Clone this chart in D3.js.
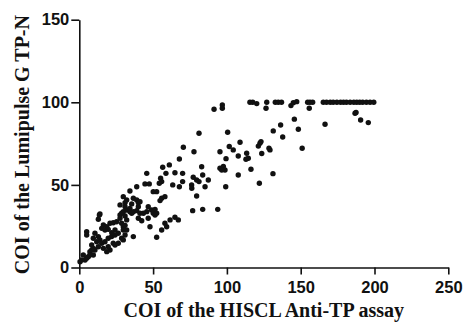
<!DOCTYPE html>
<html>
<head>
<meta charset="utf-8">
<script src="https://cdn.jsdelivr.net/npm/d3@7"></script>
<style>
  html, body { margin: 0; padding: 0; background: #fff; }
  svg { display: block; }
  .tick text { font-family: "Liberation Sans", Arial, sans-serif; font-weight: bold; font-size: 16.5px; fill: #111; }
  .axis path, .axis line { stroke: #111; stroke-width: 1.6px; }
  .title { font-family: "Liberation Serif", "Times New Roman", serif; font-weight: bold; font-size: 20px; fill: #111; }
</style>
</head>
<body>
<script>
// HISCL Anti-TP COI (x) and Lumipulse G TP-N COI (y)
const hiscl = [
  115.6,117.5,120.2,127,126.5,132.8,134.8,137,143.4,145,147.3,154.7,156.3,158.1,155.8,165.3,167.5,170,172,174.5,177,179,181,183.5,186,188,190,192,194.5,197,199.5,
  91.3,96.9,96.9,
  186.8,187.5,190.6,195.8,166.5,145.7,148.4,151,131.4,136.4,137.8,129.2,128.5,131.2,122.4,123.1,121.3,123.6,122,116.3,113.4,114.5,112.9,107.7,107.7,108.9,104.3,101.6,95.3,99.4,100.5,81.1,77.7,70.5,67.8,95.3,97.6,98.7,96.5,99.2,82.9,77.2,79.5,81.1,83.6,85.2,87.4,76.1,79.5,76.8,83.6,93.8,
  56.5,61,45.7,58.7,64.8,70,55.1,55.8,54.2,44.5,47.4,63.3,67.8,70,38.9,34.3,52.4,50.1,58,55.8,54.7,29.8,32.1,31,36.6,38.9,40,41.1,76.2,46.7,49,50.1,51.3,32.1,34.3,29.8,27.6,35.5,40,42.3,47.9,29.8,32.1,36.6,52.4,55.8,59.2,61.5,64.8,67.1,
  35.5,27.6,31,40,14,12.9,20.8,23,25.3,16.3,18.6,15.2,17.4,19.6,28.7,31,27.6,32.1,28.7,31,29.8,31,29.8,34.3,36.6,38.9,43.4,45.7,51.3,52.4,58,5,5,
  10.6,12.9,9.5,11.8,14,15.2,17.4,19.6,21.9,24.2,26.4,23,19.6,16.3,12.9,10.6,8.4,7.2,9.5,6.1,5,3.9,1.6,0.5,2.7,20.8,18.6,24.2,26.4,28.7,7.2,8.4,9.5,13.6,46.7,24.2,22,41.1
];
const lumipulse = [
  100,100,99.2,100,96.4,100,100,100,98,99.8,100.4,100,100,100,96.4,100,100,100,100,100,100,100,100,100,100,100,100,100,100,100,100,
  95.8,98.4,96.4,
  93.4,93.8,89.3,87.7,86.7,89.8,83.7,72.2,82.7,86.3,79,71.2,72.2,56.8,75.2,76.2,73.5,69,51,59.5,69.2,66.1,65.5,67.5,56,75.8,71.2,73.2,70.1,65.9,81.9,81.3,70.1,72.8,65.7,60.1,61.1,59,59,48.9,61,54.6,53,52,56,48.9,53,50,43.3,34.4,35.2,35.2,
  60.7,62.1,57,57,57.4,57,54,52,51,50.6,50.6,50,48.9,52,48.9,46.3,45.9,45.9,42.9,41.9,40.5,42.9,40.9,39.2,41.9,40.9,39.2,39.8,48,36.8,34.8,32.8,31.8,34.8,35.8,33.8,31.8,32.8,29.8,28.3,24.7,24.7,22.7,18.7,18.3,22.7,24.7,28.8,30.4,28.8,
  38.5,37.9,36.8,36.8,32.4,29.2,26.8,27.1,27.7,25.7,24.7,23.7,22.7,23.1,32.8,31.2,29.8,28.8,26.8,25.5,22.7,19.7,16.7,33.8,33.8,34.4,32.8,33.8,35.2,32.8,26.8,21.7,19.7,
  20.7,18.7,17.7,15.6,16.7,14.7,15.6,17.7,18.7,19.7,20.7,14.7,12.6,11.6,12.6,10.6,13.6,9.6,7.6,6.5,5.6,4.5,4.5,3.5,7.6,10.6,9.6,13.6,14.7,17.7,7.6,10.6,11.6,31.8,29.8,22.7,21,32.8
];
const xTicks = [0, 50, 100, 150, 200, 250];
const yTicks = [0, 50, 100, 150];
const xTitle = "COI of the HISCL Anti-TP assay";
const yTitle = "COI of the Lumipulse G TP-N";

const W = 463, H = 324;
const svg = d3.select("body").append("svg").attr("width", W).attr("height", H);

const x = d3.scaleLinear().domain([0, 250]).range([79.3, 448.3]);
const y = d3.scaleLinear().domain([0, 150]).range([267.5, 19.7]);

const gx = svg.append("g").attr("class", "axis")
  .attr("transform", `translate(0,${y(0)})`)
  .call(d3.axisBottom(x).tickValues(xTicks).tickSize(7).tickSizeOuter(0).tickPadding(7));
const gy = svg.append("g").attr("class", "axis")
  .attr("transform", `translate(${x(0)},0)`)
  .call(d3.axisLeft(y).tickValues(yTicks).tickSize(8).tickSizeOuter(0).tickPadding(2));

const pts = hiscl.map((v, i) => [v, lumipulse[i]]);
svg.append("g").selectAll("circle").data(pts).join("circle")
  .attr("cx", d => x(d[0])).attr("cy", d => y(d[1]))
  .attr("r", 2.7).attr("fill", "#111");

svg.append("text").attr("class", "title")
  .attr("x", (x(0) + x(250)) / 2).attr("y", 316.5)
  .attr("text-anchor", "middle").text(xTitle);
svg.append("text").attr("class", "title")
  .attr("transform", `translate(28.5,${(y(0) + y(150)) / 2 + 1}) rotate(-90)`)
  .attr("text-anchor", "middle").text(yTitle);
</script>
</body>
</html>
